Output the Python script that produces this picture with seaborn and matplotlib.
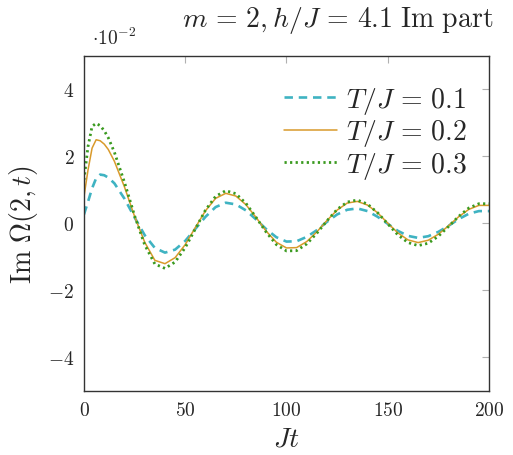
import numpy as np
import pandas as pd
import matplotlib
matplotlib.use("Agg")
import matplotlib.pyplot as plt
import seaborn as sns
from matplotlib.ticker import FuncFormatter

# Jt grid and Im Omega(2,t) values (in units of 1e-2)
jt = [0, 2, 4, 6, 8, 10, 12, 15, 20, 25, 30, 35, 40, 45, 50, 55, 60, 65, 70,
      75, 80, 85, 90, 95, 100, 105, 110, 115, 120, 125, 130, 135, 140, 145,
      150, 155, 160, 165, 170, 175, 180, 185, 190, 195, 200]

im_t01 = [0.27, 0.65, 1.05, 1.35, 1.46, 1.44, 1.37, 1.20, 0.74, 0.18, -0.35,
          -0.73, -0.87, -0.78, -0.52, -0.16, 0.20, 0.49, 0.62,
          0.57, 0.39, 0.12, -0.17, -0.41, -0.54, -0.53, -0.40, -0.20, 0.05,
          0.27, 0.41, 0.45, 0.37, 0.20, -0.01, -0.22, -0.37, -0.43, -0.38,
          -0.25, -0.07, 0.13, 0.29, 0.37, 0.37]

im_t02 = [0.80, 1.60, 2.25, 2.50, 2.47, 2.37, 2.21, 1.86, 1.09, 0.21, -0.56,
          -1.10, -1.20, -1.02, -0.63, -0.12, 0.38, 0.75, 0.90,
          0.82, 0.56, 0.18, -0.23, -0.56, -0.73, -0.72, -0.54, -0.25, 0.09,
          0.40, 0.61, 0.66, 0.55, 0.32, 0.01, -0.28, -0.49, -0.57, -0.50,
          -0.32, -0.07, 0.20, 0.42, 0.54, 0.54]

im_t03 = [1.30, 2.30, 2.90, 2.99, 2.92, 2.77, 2.56, 2.13, 1.23, 0.23, -0.64,
          -1.21, -1.34, -1.15, -0.72, -0.16, 0.40, 0.81, 0.98,
          0.89, 0.60, 0.18, -0.26, -0.63, -0.82, -0.81, -0.61, -0.29, 0.08,
          0.42, 0.64, 0.70, 0.58, 0.32, -0.01, -0.34, -0.57, -0.66, -0.59,
          -0.38, -0.09, 0.21, 0.46, 0.59, 0.59]

labels = [r"$T/J\,=\,0.1$", r"$T/J\,=\,0.2$", r"$T/J\,=\,0.3$"]
colors = ["#3fb3c2", "#d99a2b", "#3a9a1f"]

df = pd.concat([
    pd.DataFrame({"Jt": jt, "Im": np.array(v) * 1e-2, "T": lab})
    for v, lab in zip([im_t01, im_t02, im_t03], labels)
])

sns.set_style("white")
plt.rcParams["mathtext.fontset"] = "cm"
plt.rcParams["font.family"] = ["DejaVu Serif"]

fig = plt.figure(figsize=(5.13, 4.56), dpi=100)
ax = fig.add_axes([0.1637, 0.1404, 0.7895, 0.7346])

styles = [dict(ls=(0, (3.2, 2.2)), lw=1.9),
          dict(ls="-", lw=1.1),
          dict(ls=(0, (0.8, 1.2)), lw=2.0)]
for lab, col, st in zip(labels, colors, styles):
    sub = df[df["T"] == lab]
    sns.lineplot(data=sub, x="Jt", y="Im", ax=ax, color=col, label=lab,
                 linestyle=st["ls"], linewidth=st["lw"])

ax.set_xlim(0, 200)
ax.set_ylim(-0.05, 0.05)
ax.set_xticks([0, 50, 100, 150, 200])
ax.set_yticks([-0.04, -0.02, 0, 0.02, 0.04])
ax.xaxis.set_major_formatter(FuncFormatter(lambda v, p: r"$%d$" % v))
ax.yaxis.set_major_formatter(FuncFormatter(lambda v, p: r"$%d$" % round(v * 100)))
ax.tick_params(direction="in", length=5, width=0.8, color="#b0b0b0",
               labelsize=14, top=True, right=True, pad=7)
for s in ax.spines.values():
    s.set_color("#333333")
    s.set_linewidth(1.0)

ax.set_xlabel(r"$Jt$", fontsize=20, labelpad=4)
ax.set_ylabel(r"$\mathrm{Im}\ \Omega(2,t)$", fontsize=20, labelpad=6)
ax.text(0.02, 1.025, r"$\cdot 10^{-2}$", transform=ax.transAxes, fontsize=14,
        ha="left", va="bottom")
fig.text(0.962, 0.922, r"$m\,=\,2, h/J\,=\,4.1\ \mathrm{Im\ part}$", fontsize=20,
         ha="right", va="bottom")

leg = ax.legend(loc="upper right", frameon=False, fontsize=20,
                handlelength=1.9, handletextpad=0.3, labelspacing=0.05,
                borderaxespad=0.4, bbox_to_anchor=(1.0, 0.98))

fig.savefig("out.png", dpi=100)
